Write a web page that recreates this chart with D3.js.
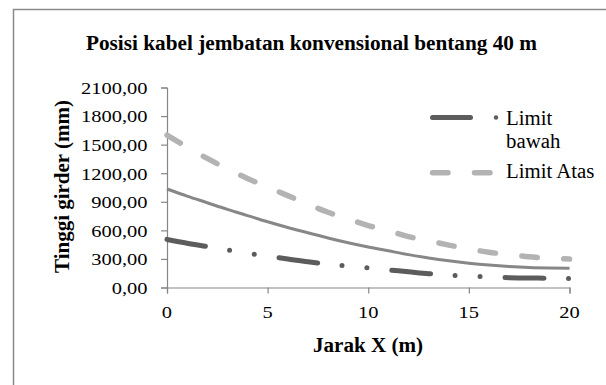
<!DOCTYPE html>
<html>
<head>
<meta charset="utf-8">
<script src="https://cdn.jsdelivr.net/npm/d3@7"></script>
<style>
  html, body { margin: 0; padding: 0; background: #fff; }
  svg { display: block; }
  svg text { font-family: "Liberation Serif", "DejaVu Serif", serif; }
</style>
</head>
<body>
<svg id="chart" width="606" height="385" font-family="Liberation Serif, DejaVu Serif, serif"></svg>
<script>
const chartTitle = "Posisi kabel jembatan konvensional bentang 40 m";
const xTitle = "Jarak X (m)";
const yTitle = "Tinggi girder (mm)";
const xValues = [0,1,2,3,4,5,6,7,8,9,10,11,12,13,14,15,16,17,18,19,20];
const kabelValues = [1035,960,890,820,755,690,630,575,520,470,425,385,345,310,280,255,235,220,210,205,203];
const limitAtasValues = [1600,1475,1355,1245,1145,1055,965,875,790,720,650,595,535,490,445,405,370,345,322,308,298];
const limitBawahValues = [505,465,430,395,360,330,300,270,245,225,205,185,165,145,130,120,110,103,100,97,95];
const xTicks = [0,5,10,15,20];
const yTicks = [0,300,600,900,1200,1500,1800,2100];
const legendNames = ["Limit bawah", "Limit Atas"];

const FONT = "'Liberation Serif', 'DejaVu Serif', serif";
const svg = d3.select("#chart");

// outer chart border
svg.append("rect").attr("x",13.5).attr("y",9.5).attr("width",620).attr("height",420)
  .attr("fill","none").attr("stroke","#8a8a8a").attr("stroke-width",1.5);

const x = d3.scaleLinear().domain([0,20]).range([167,569.5]);
const y = d3.scaleLinear().domain([0,2100]).range([287.5,87.5]);

function stretch(sel, k) {
  sel.each(function() {
    const w = this.getComputedTextLength();
    d3.select(this).attr("textLength", w * k).attr("lengthAdjust", "spacingAndGlyphs");
  });
}
const fmt = v => d3.format(".2f")(v).replace(".", ",");

// title
svg.append("text").attr("x",311.5).attr("y",49.5).attr("text-anchor","middle")
  .style("font-family",FONT).attr("font-size",20).attr("font-weight","bold").attr("fill","#000")
  .text(chartTitle).attr("textLength",451).attr("lengthAdjust","spacingAndGlyphs");

// axes
const axisColor = "#868686";
const yAxis = svg.append("g").attr("transform","translate(167,0)")
  .call(d3.axisLeft(y).tickValues(yTicks).tickSize(6).tickFormat(""));
const xAxis = svg.append("g").attr("transform","translate(0,287.5)")
  .call(d3.axisBottom(x).tickValues(xTicks).tickSize(6).tickFormat(""));
[xAxis, yAxis].forEach(a => {
  a.selectAll("path").attr("stroke",axisColor).attr("stroke-width",1.2);
  a.selectAll("line").attr("stroke",axisColor).attr("stroke-width",1.2);
});

// y tick labels
const yl = svg.append("g").selectAll("text").data(yTicks).join("text")
  .attr("x",147.5).attr("y",d => y(d) + 6.3).attr("text-anchor","end")
  .style("font-family",FONT).attr("font-size",17.5).attr("fill","#000").text(d => fmt(d));
stretch(yl, 1.17);

// x tick labels
const xl = svg.append("g").selectAll("text").data(xTicks).join("text")
  .attr("x",d => x(d)).attr("y",318).attr("text-anchor","middle")
  .style("font-family",FONT).attr("font-size",17.5).attr("fill","#000").text(d => d);
stretch(xl, 1.17);

// axis titles
svg.append("text").attr("x",368).attr("y",351.5).attr("text-anchor","middle")
  .style("font-family",FONT).attr("font-size",20).attr("font-weight","bold").attr("fill","#000")
  .text(xTitle).attr("textLength",110).attr("lengthAdjust","spacingAndGlyphs");
svg.append("text").attr("transform","translate(69,186.5) rotate(-90)").attr("text-anchor","middle")
  .style("font-family",FONT).attr("font-size",20).attr("font-weight","bold").attr("fill","#000")
  .text(yTitle).attr("textLength",173).attr("lengthAdjust","spacingAndGlyphs");

// series
const line = vals => d3.line().x((d,i) => x(xValues[i])).y(d => y(d)).curve(d3.curveMonotoneX)(vals);
const styles = {
  kabel: {color:"#878787", width:3, dash:null},
  atas: {color:"#b3b3b3", width:5.5, dash:"15.5,26.5"},
  bawah: {color:"#5c5c5c", width:5, dash:"39,24.5,0,25,0,25"}
};
svg.append("path").attr("d", line(limitAtasValues)).attr("fill","none")
  .attr("stroke",styles.atas.color).attr("stroke-width",styles.atas.width)
  .attr("stroke-dasharray",styles.atas.dash).attr("stroke-linecap","round");
svg.append("path").attr("d", line(kabelValues)).attr("fill","none")
  .attr("stroke",styles.kabel.color).attr("stroke-width",styles.kabel.width);
svg.append("path").attr("d", line(limitBawahValues)).attr("fill","none")
  .attr("stroke",styles.bawah.color).attr("stroke-width",styles.bawah.width)
  .attr("stroke-dasharray",styles.bawah.dash).attr("stroke-linecap","round");

// legend
const lg = svg.append("g");
lg.append("line").attr("x1",432.5).attr("x2",470.5).attr("y1",117.5).attr("y2",117.5)
  .attr("stroke",styles.bawah.color).attr("stroke-width",styles.bawah.width).attr("stroke-linecap","round");
lg.append("circle").attr("cx",496).attr("cy",117.5).attr("r",2.2)
  .attr("fill",styles.bawah.color);
lg.append("line").attr("x1",432.5).attr("x2",493).attr("y1",172.7).attr("y2",172.7)
  .attr("stroke",styles.atas.color).attr("stroke-width",styles.atas.width)
  .attr("stroke-dasharray","15.5,26.5").attr("stroke-linecap","round");
const lt = lg.selectAll("text").data([
  {t:"Limit", y:125}, {t:"bawah", y:148.3}, {t:"Limit Atas", y:178.3}
]).join("text").attr("x",506).attr("y",d => d.y)
  .style("font-family",FONT).attr("font-size",20).attr("fill","#000").text(d => d.t);
stretch(lt, 1.04);
</script>
</body>
</html>
